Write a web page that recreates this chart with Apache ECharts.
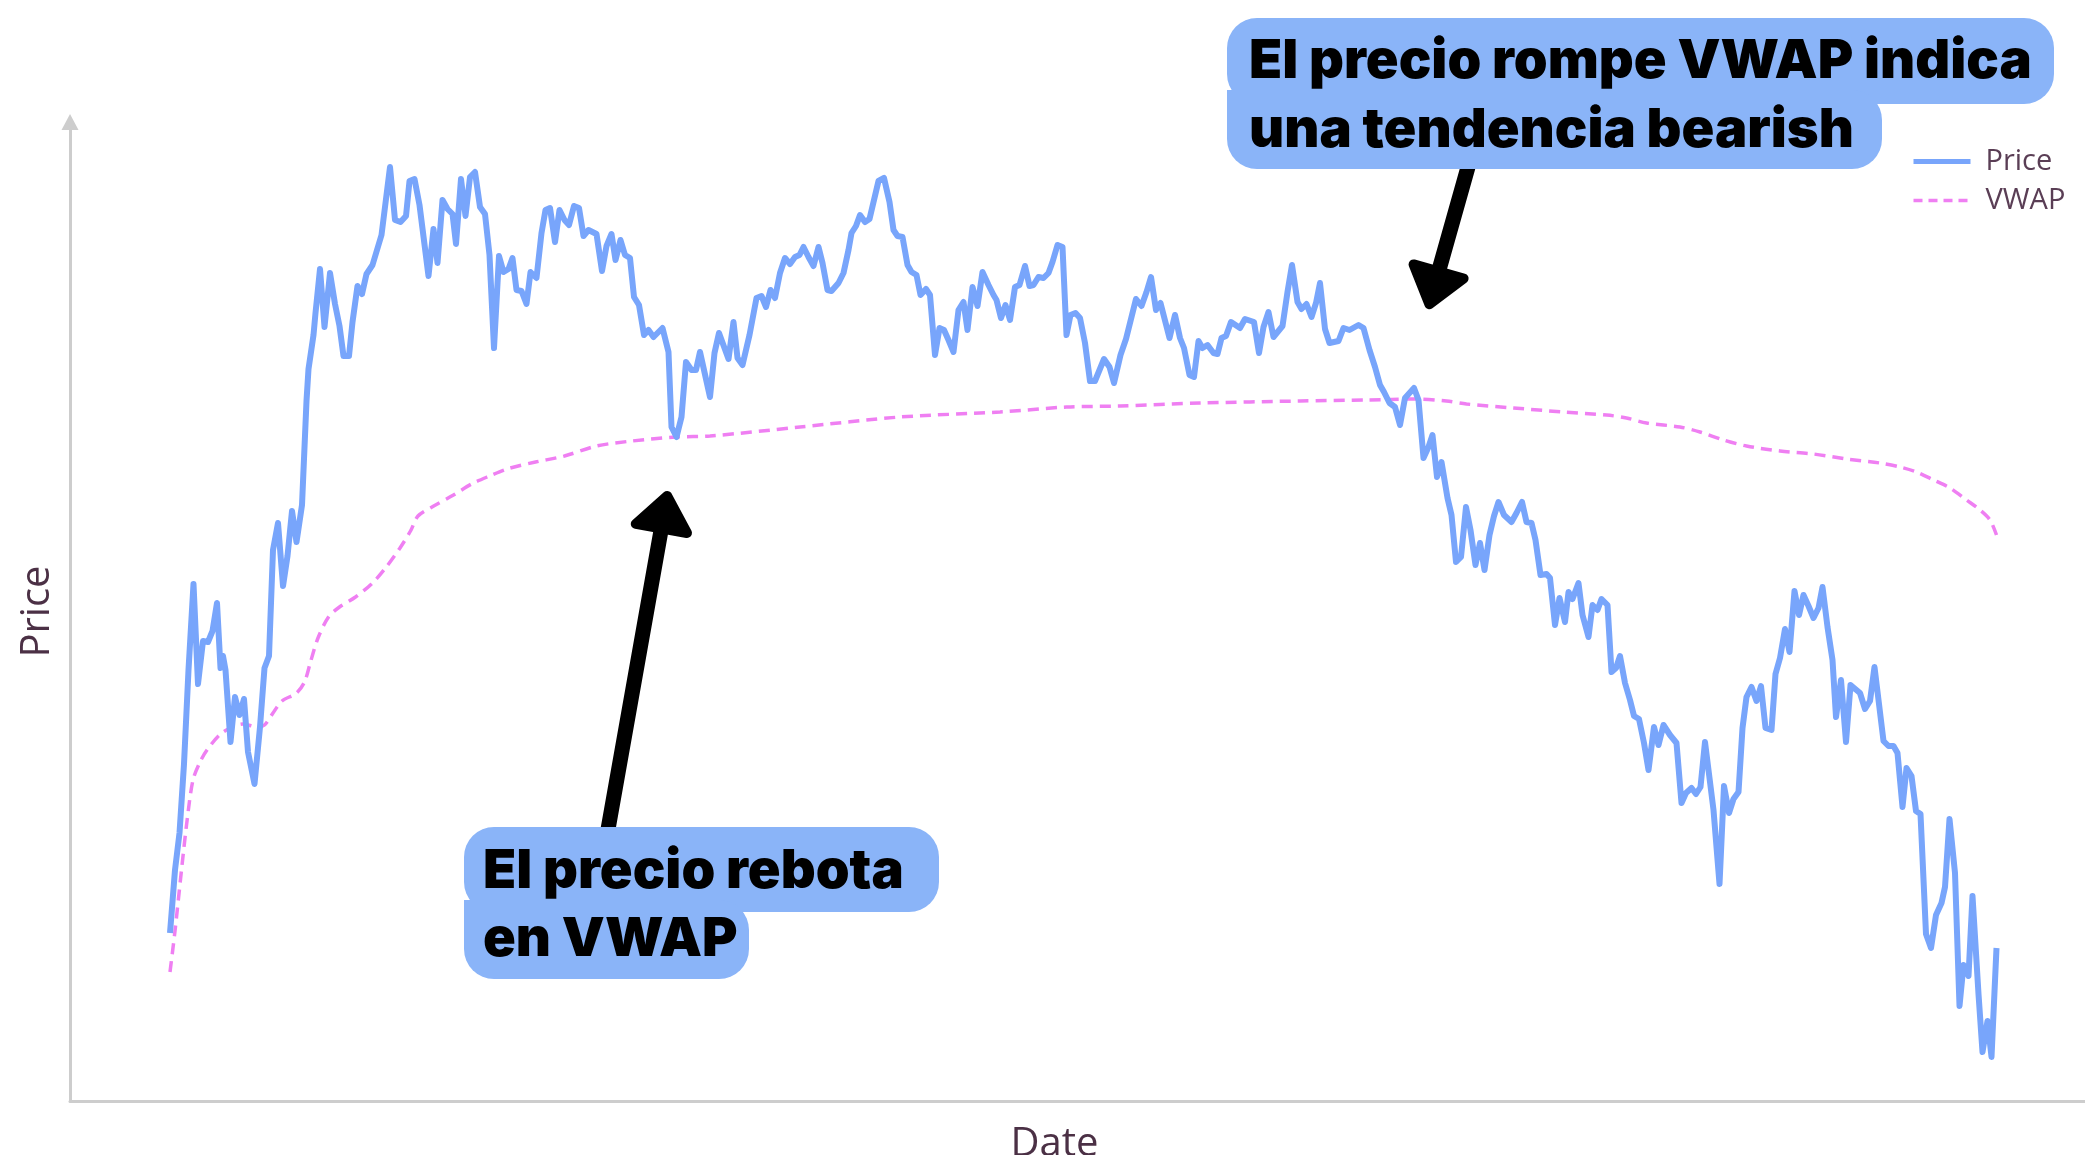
<!DOCTYPE html>
<html><head><meta charset="utf-8">
<script src="https://cdn.jsdelivr.net/npm/echarts@6/dist/echarts.min.js"></script>
<style>html,body{margin:0;padding:0;background:#fff}#c{width:2085px;height:1155px}</style>
</head><body><div id="c"></div>
<script>
const seriesNames = ['Price', 'VWAP'];
const axisNames = { x: 'Date', y: 'Price' };
const noteBearish = ['El precio rompe VWAP indica', 'una tendencia bearish'];
const noteBounce = ['El precio rebota', 'en VWAP'];

// [day index, price]
const priceData = [
[0,16.8],[1.0,23.1],[1.9,26.8],[2.8,33.7],[3.7,43.1],[4.7,51.7],[5.6,41.7],[6.6,46.0],[7.6,45.9],[8.5,47.0],
[9.4,49.8],[10.1,43.3],[10.6,44.5],[11.1,43.1],[12.1,35.9],[13.0,40.4],[13.9,38.6],[14.8,40.2],[15.6,34.9],[16.9,31.7],
[18.0,37.4],[18.9,43.3],[19.8,44.5],[20.6,55.1],[21.6,57.8],[22.6,51.5],[23.5,54.5],[24.4,59.0],[25.3,55.9],[26.4,59.6],
[27.3,70.0],[27.7,73.2],[28.7,76.6],[29.1,78.8],[30.0,83.2],[30.9,77.4],[32.0,82.8],[33.0,79.7],[33.9,77.5],[34.7,74.5],
[35.8,74.5],[36.5,77.9],[37.5,81.5],[38.4,80.7],[39.3,82.7],[40.5,83.6],[42.3,86.6],[44.0,93.4],[45.0,88.1],[46.1,87.9],
[47.2,88.5],[47.9,92.0],[48.9,92.2],[49.9,89.6],[51.7,82.5],[52.7,87.2],[53.5,83.8],[54.5,90.1],[55.5,89.2],[56.5,88.7],
[57.2,85.7],[58.2,92.2],[59.1,88.5],[60.0,92.4],[61.0,92.9],[62.0,89.4],[63.0,88.7],[63.9,84.6],[64.8,75.3],[65.8,84.5],
[66.7,82.9],[67.7,83.2],[68.5,84.3],[69.3,81.1],[70.3,81.0],[71.3,79.7],[72.1,82.9],[73.3,82.3],[74.3,86.8],[75.1,89.1],
[76.0,89.3],[77.0,85.9],[77.9,89.1],[78.9,88.1],[79.8,87.6],[80.8,89.5],[81.8,89.3],[82.7,86.5],[83.7,87.1],[85.3,86.7],
[86.4,83.0],[87.3,85.5],[88.3,86.7],[89.1,84.1],[90.1,86.1],[91.0,84.6],[92.0,84.3],[92.8,80.4],[93.8,79.6],[94.8,76.6],
[95.7,77.1],[96.7,76.4],[98.5,77.3],[99.7,74.9],[100.3,67.4],[101.3,66.4],[102.3,68.4],[103.2,73.9],[104.3,73.1],[105.2,73.1],
[106.0,74.9],[108.0,70.4],[108.9,74.8],[109.8,76.8],[111.7,74.2],[112.7,77.9],[113.5,74.3],[114.5,73.6],[115.9,76.6],[117.3,80.3],
[118.3,80.5],[119.2,79.4],[120.1,81.1],[121.0,80.3],[122.0,82.8],[123.0,84.3],[124.0,83.7],[125.0,84.4],[125.9,84.6],[126.7,85.4],
[127.7,84.4],[128.7,83.5],[129.7,85.4],[130.5,83.8],[131.5,81.1],[132.3,81.0],[133.7,81.8],[134.7,82.8],[135.7,85.1],[136.3,86.8],
[137.2,87.5],[138.0,88.6],[139.0,87.9],[139.9,88.2],[141.7,92.0],[142.8,92.3],[143.9,89.9],[144.7,87.1],[145.5,86.5],[146.5,86.4],
[147.5,83.6],[148.3,82.9],[149.3,82.6],[150.1,80.6],[151.2,81.2],[152.0,80.6],[153.0,74.6],[153.9,77.3],[154.8,77.1],[155.7,76.1],
[156.7,74.9],[157.7,79.1],[158.7,79.9],[159.5,77.1],[160.5,81.4],[161.5,79.5],[162.5,82.9],[163.7,81.6],[164.7,80.6],[165.3,80.1],
[166.2,78.3],[167.1,79.6],[168.0,78.1],[169.0,81.4],[169.9,81.6],[171.0,83.5],[171.9,81.5],[172.7,81.6],[173.7,82.4],[174.7,82.3],
[175.7,82.8],[176.5,83.9],[177.5,85.6],[178.5,85.4],[179.3,76.6],[180.1,78.6],[181.1,78.8],[182.0,78.3],[183.0,75.8],[184.0,72.0],
[185.0,72.0],[186.8,74.2],[187.9,73.4],[188.8,71.8],[190.1,74.6],[191.2,76.2],[192.3,78.4],[193.2,80.2],[194.3,79.5],[195.3,80.9],
[196.2,82.4],[197.2,79.1],[198.1,79.8],[199.9,76.3],[201.0,78.6],[202.0,76.3],[202.8,75.3],[203.9,72.6],[204.8,72.4],[205.7,76.0],
[206.5,75.3],[207.5,75.6],[208.7,74.8],[209.5,74.7],[210.3,76.3],[211.2,76.5],[212.2,77.9],[214.0,77.3],[215.0,78.2],[216.8,77.9],
[217.8,74.8],[218.7,77.4],[219.7,78.9],[220.7,76.4],[222.5,77.5],[223.5,80.9],[224.4,83.6],[225.5,79.9],[226.3,79.2],[227.3,79.7],
[228.3,78.4],[229.2,79.8],[230.0,81.8],[231.0,77.2],[231.9,75.8],[233.7,76.0],[234.7,77.3],[235.9,77.1],[237.7,77.6],[238.7,77.3],
[239.9,75.1],[241.0,73.4],[242.0,71.6],[242.8,70.9],[243.9,69.8],[245.0,69.4],[246.0,67.6],[247.0,70.3],[248.8,71.3],[249.7,70.1],
[250.7,64.3],[251.7,65.4],[252.5,66.6],[253.4,62.4],[254.3,63.9],[255.5,60.3],[256.3,58.6],[257.2,53.9],[258.2,54.4],[259.2,59.4],
[260.1,57.1],[261.1,53.6],[262.0,55.8],[262.9,53.1],[263.9,56.6],[264.8,58.5],[265.7,59.9],[266.8,58.6],[268.3,57.9],[269.3,58.8],
[270.4,59.9],[271.3,57.9],[272.3,57.8],[273.1,56.1],[274.1,52.6],[275.3,52.7],[276.0,52.3],[277.0,47.6],[277.9,50.3],[279.0,47.9],
[279.7,50.9],[280.5,50.2],[281.7,51.8],[282.5,48.6],[283.7,46.4],[284.5,49.6],[285.5,49.1],[286.3,50.2],[287.5,49.6],[288.3,42.9],
[289.2,43.3],[290.0,44.5],[291.0,41.8],[292.0,40.1],[292.8,38.5],[293.8,38.2],[294.8,35.8],[295.7,33.1],[296.8,37.4],[297.7,35.6],
[298.7,37.6],[300.0,36.6],[301.3,35.8],[302.3,29.8],[303.2,30.8],[304.3,31.3],[305.2,30.7],[306.1,31.4],[307.0,35.9],[308.7,29.1],
[309.9,21.7],[310.8,31.5],[311.8,28.8],[312.7,30.2],[313.7,30.9],[314.5,37.3],[315.3,40.4],[316.3,41.4],[317.3,40.0],[318.2,41.5],
[319.1,37.3],[320.3,37.1],[321.1,42.7],[322.0,44.3],[323.0,47.2],[323.9,44.9],[324.9,51.0],[325.8,48.6],[326.7,50.6],[327.7,49.5],
[328.7,48.3],[329.7,49.3],[330.5,51.4],[331.5,47.4],[332.5,44.1],[333.2,38.4],[334.2,42.1],[335.2,35.9],[336.1,41.6],[338.0,40.8],
[339.0,39.2],[340.0,40.0],[340.9,43.4],[342.7,36.0],[343.7,35.5],[344.7,35.5],[345.5,34.8],[346.5,29.4],[347.3,33.3],[348.3,32.5],
[349.2,29.0],[350.1,28.7],[351.2,16.7],[352.2,15.3],[353.2,18.6],[354.3,19.8],[355.0,21.4],[355.9,28.2],[357.0,22.8],[357.9,9.5],
[358.7,13.6],[359.7,12.5],[360.5,20.5],[361.7,10.7],[362.5,4.9],[363.5,8.0],[364.3,4.4],[365.3,15.3]
];

const vwapData = [
[0,12.9],[1.0,17.0],[2.3,23.1],[3.5,28.4],[4.6,32.1],[6.0,33.9],[7.4,35.1],[9.9,36.6],[12.4,37.4],[14.6,37.7],
[17.4,37.4],[18.9,37.6],[20.6,38.8],[22.4,40.0],[25.3,40.8],[26.9,41.9],[28.1,43.9],[29.6,46.3],[31.7,48.4],[33.9,49.4],
[37.1,50.4],[40.3,51.7],[43.1,53.3],[46.0,55.3],[48.1,57.0],[49.6,58.5],[52.4,59.4],[56.7,60.6],[60.3,61.7],[63.9,62.5],
[67.4,63.2],[73.1,63.9],[78.9,64.5],[85.3,65.5],[92.4,66.0],[101.3,66.4],[108.0,66.5],[126.0,67.4],[146.0,68.4],[166.0,68.9],
[179.3,69.4],[190.0,69.5],[206.0,69.8],[226.0,70.0],[239.3,70.1],[249.3,70.2],[255.3,70.0],[259.3,69.7],[268.7,69.3],[278.7,68.9],
[287.3,68.6],[291.3,68.3],[295.3,67.8],[302.0,67.4],[306.0,66.9],[310.7,66.1],[315.3,65.5],[322.0,65.0],[328.7,64.7],[335.3,64.2],
[342.0,63.8],[346.0,63.4],[349.3,62.9],[352.7,62.1],[356.0,61.3],[359.3,60.1],[362.0,59.1],[364.0,58.1],[365.3,56.6]
];

const W = 2085, H = 1155;
const BOX = '#8ab4f8';
const PRICE_COLOR = '#78a5fb';
const VWAP_COLOR = '#ef7ff2';

function fitFont(text, target, weight, family) {
  const c = document.createElement('canvas').getContext('2d');
  c.font = weight + ' 100px ' + family;
  return 100 * target / c.measureText(text).width;
}
const FAM = 'Inter';
const FW = 900;
const fs = Math.max(44, Math.min(62, fitFont(noteBearish[0], 783, FW, FAM)));

function arrow(tail, tip, shaftW, headLen, halfW) {
  const dx = tip[0] - tail[0], dy = tip[1] - tail[1];
  const L = Math.sqrt(dx * dx + dy * dy);
  const ux = dx / L, uy = dy / L, nx = -uy, ny = ux;
  const t2 = [tip[0] - ux * 5, tip[1] - uy * 5];
  const base = [t2[0] - ux * headLen, t2[1] - uy * headLen];
  return [
    { type: 'line', z: 100, shape: { x1: tail[0], y1: tail[1], x2: base[0] + ux * 4, y2: base[1] + uy * 4 },
      style: { stroke: '#000', lineWidth: shaftW, lineCap: 'round' } },
    { type: 'polygon', z: 100, shape: { points: [t2, [base[0] + nx * halfW, base[1] + ny * halfW], [base[0] - nx * halfW, base[1] - ny * halfW]] },
      style: { fill: '#000', stroke: '#000', lineWidth: 10, lineJoin: 'round' } }
  ];
}
function txt(x, y, s) {
  return { type: 'text', z: 102, x: x, y: y,
    style: { text: s, fill: '#000', fontSize: fs, fontWeight: FW, fontFamily: FAM, align: 'left', verticalAlign: 'middle' } };
}
function rect(x, y, w, h, r) {
  return { type: 'rect', z: 101, shape: { x: x, y: y, width: w, height: h, r: r }, style: { fill: BOX } };
}

const graphics = [].concat(
  arrow([1470, 160], [1428, 309], 15, 34, 26),
  arrow([607, 835], [668, 491], 15, 33, 26),
  [
    rect(1227, 18, 827, 86, 30),
    rect(1227, 90, 655, 79, [0, 30, 30, 30]),
    txt(1249, 62, noteBearish[0]),
    txt(1249, 131, noteBearish[1]),
    rect(464, 827, 475, 85, 30),
    rect(464, 900, 285, 79, [0, 30, 30, 30]),
    txt(483, 872, noteBounce[0]),
    txt(483, 940, noteBounce[1])
  ]
);

const axisColor = '#cdcdcd';
const nameColor = '#4b3045';

const chart = echarts.init(document.getElementById('c'), null, { renderer: 'canvas', width: W, height: H });
chart.setOption({
  animation: false,
  backgroundColor: '#ffffff',
  grid: { left: 70, right: 0, top: 122, bottom: 54, containLabel: false, outerBoundsMode: 'none' },
  legend: {
    data: [
      { name: seriesNames[0], lineStyle: { color: PRICE_COLOR, width: 5, type: 'solid' } },
      { name: seriesNames[1], lineStyle: { color: VWAP_COLOR, width: 3.5, type: [9, 6] } }
    ],
    orient: 'vertical', left: 1906, top: 142,
    itemWidth: 57, itemHeight: 12, itemGap: 10,
    itemStyle: { opacity: 0 },
    textStyle: { fontSize: 29, color: '#5a3e55', fontFamily: 'Open Sans', padding: [0, 0, 0, 10] }
  },
  xAxis: {
    type: 'value', min: -20, max: 383,
    name: axisNames.x, nameLocation: 'middle', nameGap: 24,
    nameTextStyle: { fontSize: 40, fontWeight: 500, color: nameColor, fontFamily: 'Open Sans', padding: [0, 46, 0, 0] },
    axisLine: { show: true, onZero: false, lineStyle: { color: axisColor, width: 3 } },
    axisTick: { show: false }, axisLabel: { show: false }, splitLine: { show: false }
  },
  yAxis: {
    type: 'value', min: 0, max: 97.9,
    name: axisNames.y, nameLocation: 'middle', nameGap: 12, nameRotate: 90,
    nameTextStyle: { fontSize: 40, fontWeight: 500, color: nameColor, fontFamily: 'Open Sans', padding: [0, 0, 0, 0] },
    axisLine: { show: true, onZero: false, symbol: ['none', 'triangle'], symbolSize: [17, 16], lineStyle: { color: axisColor, width: 3 } },
    axisTick: { show: false }, axisLabel: { show: false }, splitLine: { show: false }
  },
  series: [
    { name: seriesNames[0], type: 'line', data: priceData, symbol: 'none', smooth: false,
      lineStyle: { color: PRICE_COLOR, width: 6, join: 'round' }, itemStyle: { color: PRICE_COLOR }, z: 3 },
    { name: seriesNames[1], type: 'line', data: vwapData, symbol: 'none', smooth: 0.3,
      lineStyle: { color: VWAP_COLOR, width: 3.5, type: [11, 7] }, itemStyle: { color: VWAP_COLOR }, z: 2 }
  ],
  graphic: graphics
});
</script>
</body></html>
